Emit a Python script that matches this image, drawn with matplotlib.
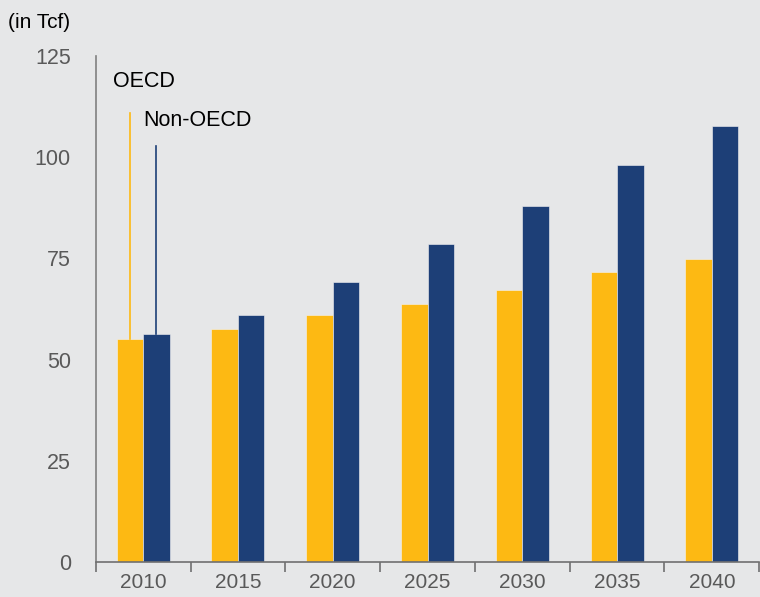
import matplotlib.pyplot as plt
import numpy as np

plt.rcParams['font.family'] = ['Liberation Sans', 'DejaVu Sans']

years = ['2010', '2015', '2020', '2025', '2030', '2035', '2040']
oecd = [55.0, 57.5, 61.0, 63.7, 67.2, 71.6, 74.8]
non_oecd = [56.3, 61.0, 69.1, 78.5, 87.9, 98.0, 107.7]

YELLOW = '#FDB913'
NAVY = '#1D3F77'
BG = '#E6E7E8'

fig = plt.figure(figsize=(7.6, 5.97), dpi=100, facecolor=BG)
ax = fig.add_axes([0.126, 0.0586, 0.873, 0.8474], facecolor=BG)

x = np.arange(len(years))
w = 0.28
ax.bar(x - w / 2, oecd, w, color=YELLOW, edgecolor='#f3f3f3', linewidth=0.4)
ax.bar(x + w / 2, non_oecd, w, color=NAVY, edgecolor='#f3f3f3', linewidth=0.4)

# leader lines for the labels
ax.plot([x[0] - w / 2] * 2, [oecd[0], 111], color=YELLOW, lw=1.2)
ax.plot([x[0] + w / 2] * 2, [non_oecd[0], 102.7], color=NAVY, lw=1.2)
ax.text(-0.32, 118.8, 'OECD', fontsize=15.5, va='center', ha='left')
ax.text(0.0, 109.0, 'Non-OECD', fontsize=15.5, va='center', ha='left')

ax.set_xlim(-0.5, len(years) - 0.5)
ax.set_ylim(0, 125)
ax.set_yticks([0, 25, 50, 75, 100, 125])
ax.set_xticks(x)
ax.set_xticklabels(years)
ax.set_xticks(np.arange(-0.5, len(years)), minor=True)
ax.tick_params(axis='x', which='major', length=0, pad=8, labelsize=15, labelcolor='#595959')
ax.tick_params(axis='x', which='minor', length=7, width=1.2, color='#707070', direction='out')
ax.tick_params(axis='y', length=0, pad=18, labelsize=15.5, labelcolor='#595959')

for s in ['top', 'right']:
    ax.spines[s].set_visible(False)
ax.spines['left'].set_color('#808080')
ax.spines['bottom'].set_color('#707070')
ax.spines['left'].set_linewidth(1.2)
ax.spines['bottom'].set_linewidth(1.2)

fig.text(0.011, 0.963, '(in Tcf)', fontsize=15, va='center', ha='left')

fig.savefig('out.png', dpi=100, facecolor=BG)
